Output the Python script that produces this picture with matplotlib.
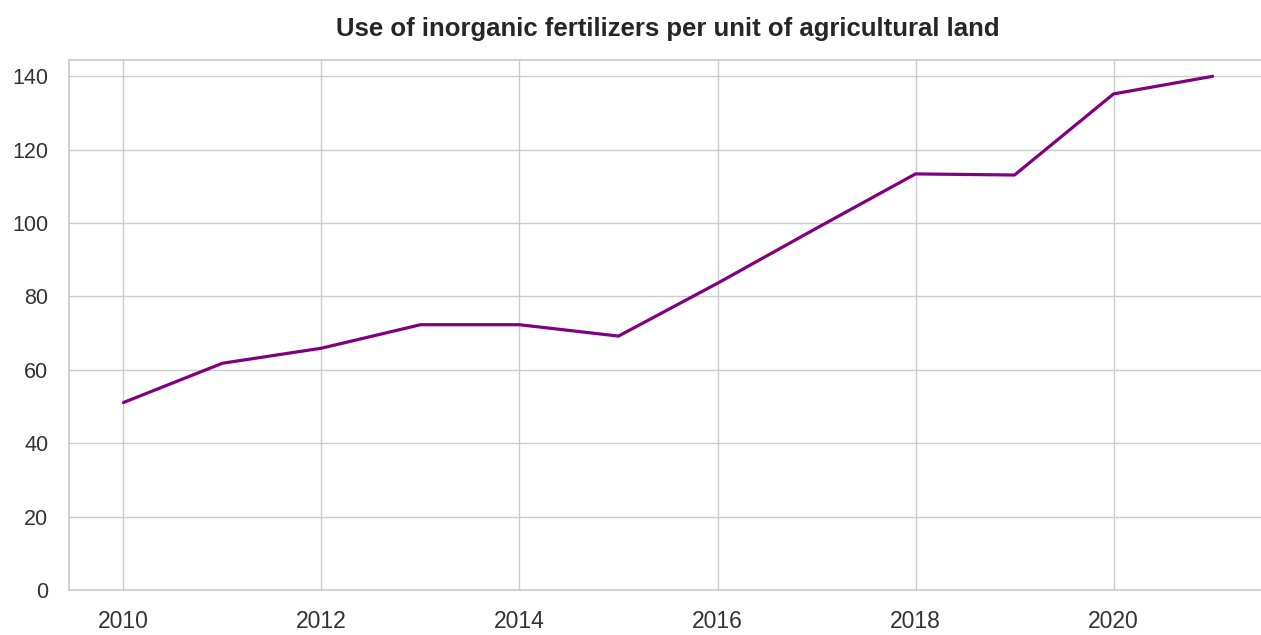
import matplotlib
matplotlib.use("Agg")
import matplotlib.pyplot as plt
import seaborn as sns

# values
years = [2010, 2011, 2012, 2013, 2014, 2015, 2016, 2017, 2018, 2019, 2020, 2021]
fertilizer_use = [51.1, 61.8, 65.9, 72.3, 72.3, 69.2, 83.6, 98.6, 113.4, 113.1, 135.2, 140.0]

sns.set_theme(style="whitegrid")
plt.rcParams['font.family'] = ['Liberation Sans', 'DejaVu Sans']

fig = plt.figure(figsize=(12.61, 6.35), dpi=100)
# axes runs slightly past the right edge, like the cropped reference
ax = fig.add_axes([69 / 1261, 45 / 635, 1198 / 1261, 530 / 635])

ax.plot(years, fertilizer_use, color='purple', linewidth=2.3)

ax.set_ylim(bottom=0)
ax.set_xticks([2010, 2012, 2014, 2016, 2018, 2020])
ax.tick_params(axis='x', labelsize=16.5, colors='#333333', pad=8.5)
ax.tick_params(axis='y', labelsize=15.5, colors='#333333', pad=9)
ax.set_title('Use of inorganic fertilizers per unit of agricultural land',
             fontsize=18.5, fontweight='bold', color='#262626', pad=17)

fig.savefig('out.png', dpi=100)
